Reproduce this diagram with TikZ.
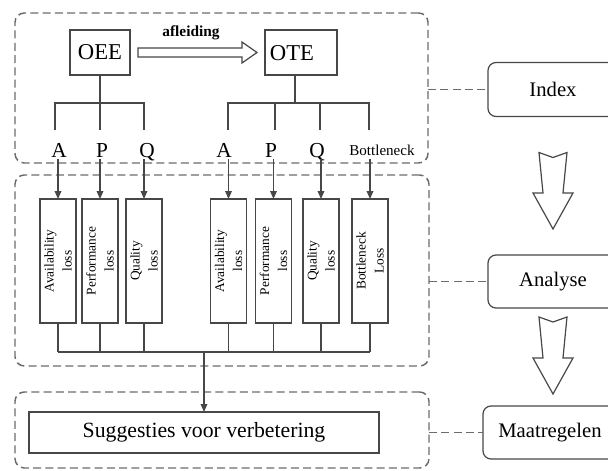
\documentclass[tikz,border=0pt]{standalone}
\usepackage{fontspec}
\setmainfont{Liberation Serif}
\usetikzlibrary{arrows.meta,calc}

% hollow downward block arrow: #1 = middle of the notched tail, #2 = tip
\newcommand\hollowdrop[2]{%
  \draw[hollow] ($(#1)+(-14,0)$) -- ($(#1)+(0,5)$) -- ($(#1)+(14,0)$)
    -- ($(#2)+(10,-36)$) -- ($(#2)+(20,-36)$) -- (#2)
    -- ($(#2)+(-20,-36)$) -- ($(#2)+(-10,-36)$) -- cycle;}

\begin{document}
\begin{tikzpicture}[x=0.75pt, y=-0.75pt,
  plainbox/.style={draw=black!72, line width=0.9pt, inner sep=0pt, outer sep=0pt},
  lossbox/.style={plainbox, rotate=90, minimum width=93pt, minimum height=27pt,
    align=center, font=\fontsize{10}{13.5}\selectfont},
  stagebox/.style={draw=black!72, line width=0.9pt, rounded corners=6pt,
    minimum width=97.5pt, minimum height=40.5pt, inner sep=0pt, outer sep=0pt,
    font=\fontsize{15.5}{18}\selectfont},
  groupframe/.style={draw=black!58, line width=1.1pt, dash pattern=on 6pt off 3.2pt,
    rounded corners=7pt, inner sep=0pt, outer sep=0pt},
  link/.style={draw=black!58, line width=1.1pt, dash pattern=on 6pt off 3.2pt},
  wire/.style={draw=black!72, line width=0.9pt},
  feed/.style={wire, -{Triangle[length=6pt,width=5pt]}},
  hollow/.style={draw=black!72, line width=0.9pt, fill=white, line join=miter},
  letter/.style={inner sep=0pt, anchor=base, text depth=0pt, font=\fontsize{16}{19}\selectfont},
]
\useasboundingbox (0,0) rectangle (608,471);
\clip (0,0) rectangle (608,471);

% dashed group frames
\node[groupframe, minimum width=309.75pt, minimum height=112.5pt] (gidx) at (221.5,88) {};
\node[groupframe, minimum width=310.5pt, minimum height=143.25pt] (gana) at (222,270.5) {};
\node[groupframe, minimum width=310.5pt, minimum height=57pt] (gmaat) at (222,430) {};

% stage boxes on the right
\node[stagebox] (idx) at (553,89.5) {Index};
\node[stagebox, minimum height=39.75pt] (ana) at (553,281.5) {Analyse};
\node[stagebox, minimum height=39.75pt, minimum width=100.5pt] (maat) at (550,432.5) {Maatregelen};

\draw[link] (gidx.east |- idx.west) -- (idx.west);
\draw[link] (gana.east |- ana.west) -- (ana.west);
\draw[link] (gmaat.east |- maat.west) -- (maat.west);

\coordinate (t1) at ($(idx.south)+(0,36)$);
\coordinate (p1) at ($(ana.north)+(0,-26)$);
\hollowdrop{t1}{p1}
\coordinate (t2) at ($(ana.south)+(0,9)$);
\coordinate (p2) at ($(maat.north -| ana.south)+(0,-12)$);
\hollowdrop{t2}{p2}

% indicator boxes
\node[plainbox, minimum width=45pt, minimum height=33.75pt,
  font=\fontsize{17}{20}\selectfont] (oee) at (100,52.5) {OEE};
\node[plainbox, minimum width=54pt, minimum height=33.75pt] (ote) at (301,52.5) {};
\node[font=\fontsize{17}{20}\selectfont, inner sep=0pt] (otetxt) at (292,53.5) {OTE};

\draw[hollow] ($(oee.east)+(8,-4.5)$) -- ($(ote.west)+(-23,-4.5)$)
  -- ($(ote.west)+(-23,-10.5)$) -- ($(ote.west)+(-8,0)$)
  -- ($(ote.west)+(-23,10.5)$) -- ($(ote.west)+(-23,4.5)$)
  -- ($(oee.east)+(8,4.5)$) -- cycle;
\node[font=\bfseries\fontsize{11.5}{14}\selectfont] (afl) at (191,33) {afleiding};

% OEE tree
\coordinate (oeej) at (100,103);
\coordinate (oa) at (55,130);
\coordinate (op) at (100,130);
\coordinate (oq) at (144,130);
\draw[wire] (oee.south) -- (oeej);
\draw[wire] (oa) |- (oeej) -| (oq);
\draw[wire] (oeej) -- (op);

% OTE tree
\coordinate (otej) at (295,103);
\coordinate (ta) at (228,130);
\coordinate (tp) at (275,130);
\coordinate (tq) at (320,130);
\coordinate (tb) at (369,130);
\draw[wire] (otej |- ote.south) -- (otej);
\draw[wire] (ta) |- (otej) -| (tb);
\draw[wire] (tp) |- (otej);
\draw[wire] (tq) |- (otej);

% component letters
\node[letter] (lA1) at (59,157) {A};
\node[letter] (lP1) at (102,157) {P};
\node[letter] (lQ1) at (147,157) {Q};
\node[letter] (lA2) at (224,157) {A};
\node[letter] (lP2) at (271,157) {P};
\node[letter] (lQ2) at (317,157) {Q};
\node[letter, font=\fontsize{11.3}{13}\selectfont] (lB2) at (382,155) {Bottleneck};

% loss boxes
\node[lossbox] (bA1) at (58,261) {Availability\\loss};
\node[lossbox] (bP1) at (100,261) {Performance\\loss};
\node[lossbox] (bQ1) at (144,261) {Quality\\loss};
\node[lossbox] (bA2) at (228.5,261) {Availability\\loss};
\node[lossbox] (bP2) at (273.5,261) {Performance\\loss};
\node[lossbox] (bQ2) at (321,261) {Quality\\loss};
\node[lossbox] (bB2) at (370,261) {Bottleneck\\Loss};

\foreach \l/\b in {lA1/bA1, lP1/bP1, lQ1/bQ1, lA2/bA2, lP2/bP2, lQ2/bQ2}
  \draw[feed] ($(\l.south -| \b.east)+(0,2)$) -- (\b.east);
\draw[feed] ($(lB2.south -| bB2.east)+(0,4)$) -- (bB2.east);

% collecting bus
\coordinate (join) at (204,352);
\foreach \b in {bA1, bP1, bQ1, bA2, bP2, bQ2, bB2}
  \draw[wire] (\b.west) -- (\b.west |- join);
\draw[wire] (bA1.west |- join) -- (bB2.west |- join);

% improvement box
\node[plainbox, minimum width=262.5pt, minimum height=30.75pt,
  font=\fontsize{16.3}{20}\selectfont] (sug) at (204,432.5) {Suggesties voor verbetering};
\draw[feed] (join) -- (sug.north);
\end{tikzpicture}
\end{document}
